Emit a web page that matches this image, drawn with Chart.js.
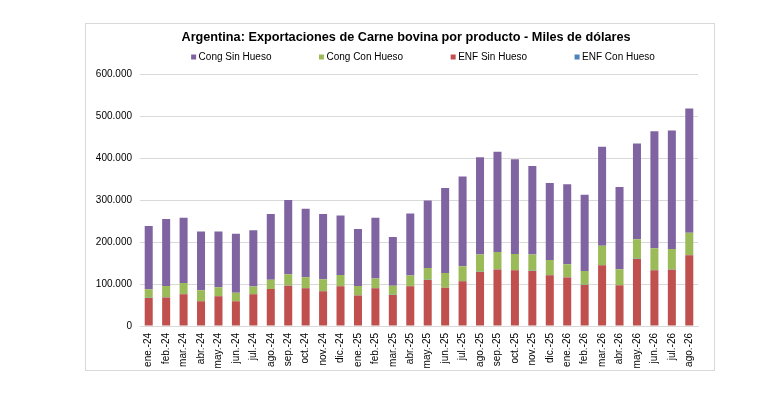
<!DOCTYPE html>
<html>
<head>
<meta charset="utf-8">
<script src="https://cdn.jsdelivr.net/npm/chart.js@4.4.1/dist/chart.umd.min.js"></script>
<style>
  html, body { margin: 0; padding: 0; background: #fff; }
  body { width: 774px; height: 404px; position: relative; overflow: hidden; }
  #frame { position: absolute; left: 85px; top: 23px; width: 630px; height: 348px; box-sizing: border-box; border: 1px solid #d9d9d9; }
  #wrap { position: absolute; left: 62px; top: 23px; width: 688px; height: 347px; }
</style>
</head>
<body>
<div id="frame"></div>
<div id="wrap"><canvas id="chart" width="688" height="347"></canvas></div>
<script>
// meses del eje X
const meses = [
  'ene.-24','feb.-24','mar.-24','abr.-24','may.-24','jun.-24','jul.-24','ago.-24','sep.-24','oct.-24','nov.-24','dic.-24',
  'ene.-25','feb.-25','mar.-25','abr.-25','may.-25','jun.-25','jul.-25','ago.-25','sep.-25','oct.-25','nov.-25','dic.-25',
  'ene.-26','feb.-26','mar.-26','abr.-26','may.-26','jun.-26','jul.-26','ago.-26'
]

// miles de dólares
const enfSinHueso = [67000,68000,76000,59000,71000,59000,76000,88000,96000,90000,83000,95000,
  73000,90000,74000,95000,110000,91000,107000,129000,135000,133000,131000,121000,
  116000,98000,145000,97000,160000,133000,134000,169000]
const enfConHueso = [400,400,500,300,400,300,400,500,500,500,400,500,
  300,400,300,500,500,400,500,600,600,600,600,500,
  500,400,600,500,700,600,600,700]
const congConHueso = [20000,27000,26000,26000,21000,20000,18000,22000,27000,26000,28000,26000,
  22000,23000,22000,25000,28000,35000,35000,41000,41000,38000,39000,36000,
  31000,33000,46000,38000,46000,52000,49000,53000]
const congSinHueso = [151000,160000,156000,140000,133000,141000,134000,157000,177000,163000,156000,142000,
  136000,145000,116000,148000,161000,203000,214000,232000,239000,226000,211000,184000,
  191000,182000,236000,196000,229000,279000,283000,296000]

const yTicks = [0,100000,200000,300000,400000,500000,600000]

const titulo = 'Argentina: Exportaciones de Carne bovina por producto - Miles de dólares'

// orden de la leyenda (indices de datasets)
const ordenLeyenda = [3, 2, 0, 1]

function miles(v){
  return String(v).replace(/\B(?=(\d{3})+(?!\d))/g, '.')
}

Chart.defaults.font.family = '"Liberation Sans", Arial, sans-serif'
Chart.defaults.color = '#000'

// leyenda estilo excel, cajas chicas y mucho espacio entre items
const leyenda = {
  id: 'leyenda',
  afterDraw(chart){
    const ctx = chart.ctx
    const items = ordenLeyenda.map(i => chart.data.datasets[i])
    ctx.save()
    ctx.font = '10px "Liberation Sans", Arial, sans-serif'
    ctx.textBaseline = 'middle'
    const anchos = items.map(d => ctx.measureText(d.label).width)
    const total = anchos.reduce((s, w) => s + 7.5 + w, 0) + 47.5 * (items.length - 1)
    let x = 361 - total / 2
    const y = 34
    items.forEach((d, i) => {
      ctx.fillStyle = d.backgroundColor
      ctx.fillRect(x, y - 2.5, 5, 5)
      ctx.fillStyle = '#000'
      ctx.fillText(d.label, x + 7.5, y + 0.5)
      x += 7.5 + anchos[i] + 47.5
    })
    ctx.restore()
  }
}

const ctx = document.getElementById('chart').getContext('2d')
new Chart(ctx, {
  type: 'bar',
  data: {
    labels: meses,
    datasets: [
      {label: 'ENF Sin Hueso', data: enfSinHueso, backgroundColor: '#c0504d'},
      {label: 'ENF Con Hueso', data: enfConHueso, backgroundColor: '#4f81bd'},
      {label: 'Cong Con Hueso', data: congConHueso, backgroundColor: '#9bbb59'},
      {label: 'Cong Sin Hueso', data: congSinHueso, backgroundColor: '#8064a2'}
    ]
  },
  options: {
    responsive: false,
    animation: false,
    datasets: {bar: {barPercentage: 0.46, categoryPercentage: 1, borderWidth: 0}},
    layout: {padding: 0},
    plugins: {
      legend: {display: false},
      tooltip: {enabled: false},
      title: {
        display: true,
        text: titulo,
        color: '#000',
        font: {size: 12.7, weight: 'bold'},
        padding: {top: 7, bottom: 29.3}
      }
    },
    scales: {
      x: {
        stacked: true,
        grid: {display: false, drawTicks: false},
        border: {color: '#d9d9d9'},
        ticks: {autoSkip: false, maxRotation: 90, minRotation: 90, padding: 7, font: {size: 10}},
        afterFit: s => { s.height = 44 }
      },
      y: {
        stacked: true,
        min: 0,
        max: 600000,
        afterBuildTicks: s => { s.ticks = yTicks.map(v => ({value: v})) },
        ticks: {padding: 8, font: {size: 10}, callback: v => miles(v)},
        grid: {color: '#d9d9d9', drawTicks: false},
        border: {display: false},
        afterFit: s => { s.width = 78 }
      },
      // eje vacio a la derecha, solo reserva margen
      margen: {
        type: 'linear',
        position: 'right',
        grid: {display: false, drawTicks: false},
        border: {display: false},
        ticks: {display: false},
        afterFit: s => { s.width = 52 }
      }
    }
  },
  plugins: [leyenda]
})
</script>
</body>
</html>
